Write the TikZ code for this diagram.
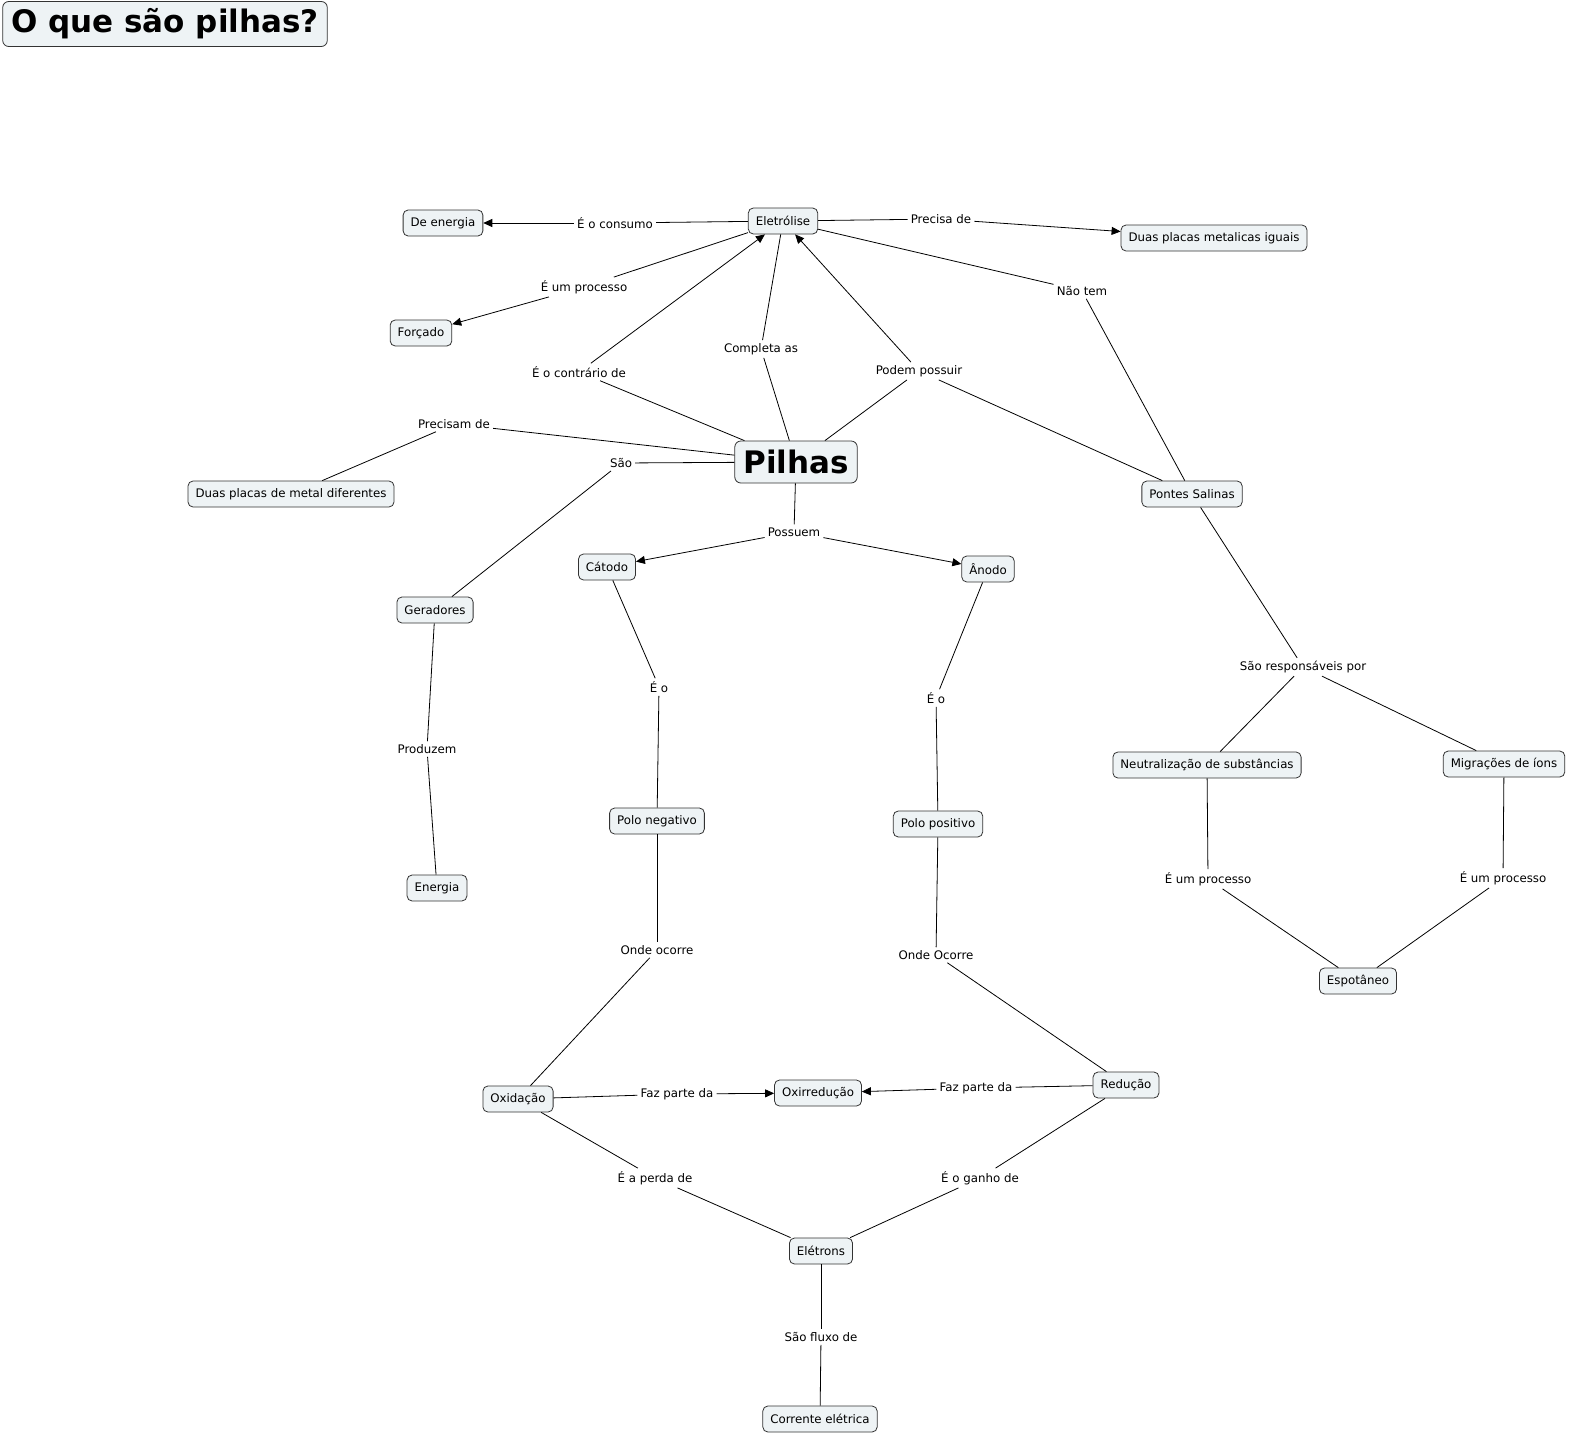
\documentclass[tikz,border=0pt]{standalone}
\usepackage{fontspec}
\setmainfont{DejaVu Sans}
\usetikzlibrary{arrows.meta}
\definecolor{conceptfill}{RGB}{238,243,245}
\begin{document}
\begin{tikzpicture}[x=1pt,y=-1pt,
            concept/.style = {draw=black!80, fill=conceptfill, line width=0.8pt, rounded corners=5pt,
                              font=\fontsize{11.8}{13}\selectfont, inner xsep=7.5pt, minimum height=26pt},
            big/.style = {concept, font=\fontsize{31}{34}\selectfont\bfseries, inner xsep=8.5pt,
                          minimum height=42pt, rounded corners=6pt},
            phrase/.style = {font=\fontsize{11.8}{13}\selectfont, inner sep=3pt},
            link/.style = {draw, line width=0.8pt},
            arr/.style = {link, -{Triangle[length=9pt,width=8pt]}}]
\useasboundingbox (0,0) rectangle (1589,1453);

% concepts
\node[big, minimum height=45pt] (titulo) at (165,24) {O que são pilhas?};
\node[concept] (eletrolise) at (783,221) {Eletrólise};
\node[concept] (deenergia) at (443,223) {De energia};
\node[concept] (iguais) at (1214,238) {Duas placas metalicas iguais};
\node[concept] (forcado) at (421,333) {Forçado};
\node[big] (pilhas) at (796,462) {Pilhas};
\node[concept] (diferentes) at (291,494) {Duas placas de metal diferentes};
\node[concept] (pontes) at (1192,494) {Pontes Salinas};
\node[concept] (catodo) at (607,567) {Cátodo};
\node[concept] (anodo) at (988,569) {Ânodo};
\node[concept] (geradores) at (435,610) {Geradores};
\node[concept] (neutral) at (1207,765) {Neutralização de substâncias};
\node[concept] (migracoes) at (1504,764) {Migrações de íons};
\node[concept] (negativo) at (657,821) {Polo negativo};
\node[concept] (positivo) at (938,824) {Polo positivo};
\node[concept] (energia) at (437,888) {Energia};
\node[concept] (espontaneo) at (1358,981) {Espotâneo};
\node[concept] (oxidacao) at (518,1099) {Oxidação};
\node[concept] (oxirreducao) at (818,1093) {Oxirredução};
\node[concept] (reducao) at (1126,1085) {Redução};
\node[concept] (eletrons) at (821,1251) {Elétrons};
\node[concept] (corrente) at (820,1419) {Corrente elétrica};

% linking phrases
\node[phrase] (consumo) at (615,223) {É o consumo};
\node[phrase] (precisa) at (941,219) {Precisa de};
\node[phrase] (processo) at (584,287) {É um processo};
\node[phrase] (naotem) at (1082,291) {Não tem};
\node[phrase] (completa) at (761,349) {Completa as};
\node[phrase] (contrario) at (579,372) {É o contrário de};
\node[phrase] (podem) at (919,371) {Podem possuir};
\node[phrase] (precisam) at (454,424) {Precisam de};
\node[phrase] (sao) at (621,463) {São};
\node[phrase] (possuem) at (794,532) {Possuem};
\node[phrase] (eo1) at (659,687) {É o};
\node[phrase] (eo2) at (936,698) {É o};
\node[phrase] (responsaveis) at (1303,667) {São responsáveis por};
\node[phrase] (produzem) at (427,749) {Produzem};
\node[phrase] (processo1) at (1208,879) {É um processo};
\node[phrase] (processo2) at (1503,878) {É um processo};
\node[phrase] (ocorre1) at (657,950) {Onde ocorre};
\node[phrase] (ocorre2) at (936,955) {Onde Ocorre};
\node[phrase] (faz1) at (677,1094) {Faz parte da};
\node[phrase] (faz2) at (976,1088) {Faz parte da};
\node[phrase] (perda) at (655,1178) {É a perda de};
\node[phrase] (ganho) at (980,1178) {É o ganho de};
\node[phrase] (fluxo) at (821,1337) {São fluxo de};

% connections
\draw[link] (eletrolise) -- (consumo);
\draw[arr] (consumo) -- (deenergia);
\draw[link] (eletrolise) -- (precisa);
\draw[arr] (precisa) -- (iguais);
\draw[link] (eletrolise) -- (processo);
\draw[arr] (processo) -- (forcado);
\draw[link] (eletrolise) -- (naotem);
\draw[link] (naotem) -- (pontes);
\draw[link] (pilhas) -- (completa);
\draw[link] (completa) -- (eletrolise);
\draw[link] (pilhas) -- (contrario);
\draw[arr] (contrario) -- (eletrolise);
\draw[link] (pilhas) -- (podem);
\draw[arr] (podem) -- (eletrolise);
\draw[link] (podem) -- (pontes);
\draw[link] (pilhas) -- (precisam);
\draw[link] (precisam) -- (diferentes);
\draw[link] (pilhas) -- (sao);
\draw[link] (sao) -- (geradores);
\draw[link] (pilhas) -- (possuem);
\draw[arr] (possuem) -- (catodo);
\draw[arr] (possuem) -- (anodo);
\draw[link] (catodo) -- (eo1);
\draw[link] (eo1) -- (negativo);
\draw[link] (anodo) -- (eo2);
\draw[link] (eo2) -- (positivo);
\draw[link] (geradores) -- (produzem);
\draw[link] (produzem) -- (energia);
\draw[link] (pontes) -- (responsaveis);
\draw[link] (responsaveis) -- (neutral);
\draw[link] (responsaveis) -- (migracoes);
\draw[link] (neutral) -- (processo1);
\draw[link] (processo1) -- (espontaneo);
\draw[link] (migracoes) -- (processo2);
\draw[link] (processo2) -- (espontaneo);
\draw[link] (negativo) -- (ocorre1);
\draw[link] (ocorre1) -- (oxidacao);
\draw[link] (positivo) -- (ocorre2);
\draw[link] (ocorre2) -- (reducao);
\draw[link] (oxidacao) -- (faz1);
\draw[arr] (faz1) -- (oxirreducao);
\draw[link] (reducao) -- (faz2);
\draw[arr] (faz2) -- (oxirreducao);
\draw[link] (oxidacao) -- (perda);
\draw[link] (perda) -- (eletrons);
\draw[link] (reducao) -- (ganho);
\draw[link] (ganho) -- (eletrons);
\draw[link] (eletrons) -- (fluxo);
\draw[link] (fluxo) -- (corrente);

\end{tikzpicture}
\end{document}
